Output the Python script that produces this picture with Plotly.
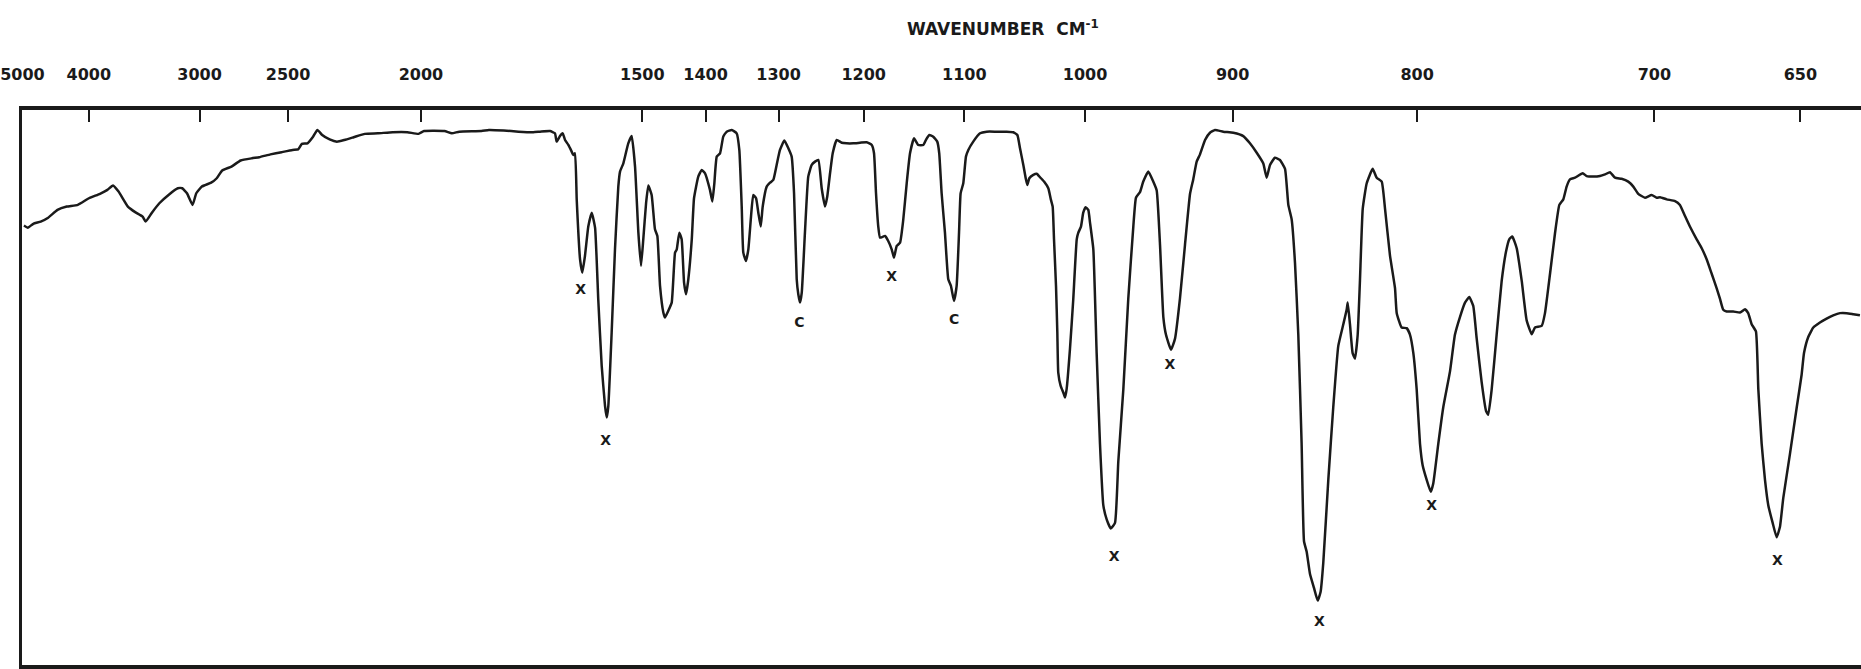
import plotly.graph_objects as go

# Spectrum trace (abscissa linear in wavelength, microns)
wavelength_um = [
    2.012, 2.041, 2.082, 2.138, 2.194, 2.264, 2.334, 2.417, 2.501, 2.584, 2.640, 2.682, 2.724, 2.794,
    2.849, 2.905, 2.928, 2.975, 3.031, 3.100, 3.170, 3.203, 3.239, 3.281, 3.309, 3.351, 3.421, 3.463,
    3.504, 3.574, 3.643, 3.728, 3.783, 3.867, 3.951, 4.034, 4.076, 4.104, 4.146, 4.188, 4.221, 4.257,
    4.313, 4.368, 4.424, 4.494, 4.578, 4.676, 4.787, 4.898, 4.982, 5.024, 5.177, 5.233, 5.289, 5.456,
    5.512, 5.623, 5.735, 5.846,
    5.897, 5.972, 6.009, 6.022, 6.047, 6.067, 6.085, 6.110, 6.135, 6.147, 6.160, 6.173, 6.198, 6.215,
    6.235, 6.260, 6.286, 6.311, 6.335, 6.361, 6.386, 6.399, 6.411, 6.436, 6.461, 6.486, 6.499, 6.524,
    6.561, 6.587, 6.612, 6.637, 6.657, 6.674, 6.695, 6.712, 6.737, 6.762, 6.780, 6.800, 6.825, 6.837,
    6.862, 6.888, 6.913, 6.926, 6.945, 6.963, 6.981, 6.996, 7.013, 7.039, 7.056, 7.088, 7.114, 7.139,
    7.176, 7.194, 7.209, 7.227, 7.252, 7.276, 7.302, 7.340, 7.377, 7.397, 7.415, 7.427, 7.447, 7.465,
    7.485, 7.502, 7.523, 7.540, 7.558, 7.573, 7.603, 7.628, 7.653, 7.678, 7.703, 7.736, 7.766, 7.791,
    7.809, 7.829, 7.841, 7.854, 7.867, 7.891, 7.916, 7.942, 7.967, 7.992, 8.017, 8.042, 8.059, 8.080,
    8.100, 8.130, 8.168, 8.205, 8.255, 8.305,
    8.356, 8.394, 8.411, 8.426, 8.443, 8.456, 8.494, 8.518, 8.544, 8.561, 8.582, 8.607, 8.631, 8.657,
    8.682, 8.712, 8.744, 8.782, 8.802, 8.827, 8.857, 8.887, 8.902, 8.920, 8.945, 8.970, 8.990, 9.013,
    9.033, 9.051, 9.063, 9.083, 9.103, 9.121, 9.158, 9.209, 9.259, 9.334, 9.410, 9.459, 9.490, 9.510,
    9.535, 9.553, 9.565, 9.580, 9.610, 9.636, 9.660, 9.691, 9.723, 9.743, 9.756, 9.766, 9.781, 9.791,
    9.798, 9.816, 9.836, 9.849, 9.861, 9.886, 9.911, 9.937, 9.949, 9.969, 9.986, 10.004, 10.024, 10.037,
    10.062, 10.087, 10.112, 10.137, 10.163, 10.193, 10.225, 10.250, 10.288, 10.325, 10.363, 10.383,
    10.413, 10.438, 10.476, 10.513, 10.539, 10.564, 10.589, 10.609, 10.647, 10.677, 10.714, 10.752,
    10.790, 10.814, 10.840, 10.865, 10.903, 10.940, 10.978, 11.040, 11.116, 11.191, 11.241, 11.292,
    11.341, 11.367, 11.392, 11.429, 11.467, 11.505, 11.530, 11.555, 11.580, 11.605, 11.630, 11.648,
    11.668, 11.693, 11.723, 11.751, 11.773, 11.793, 11.831, 11.868, 11.906, 11.944, 11.969, 11.977,
    11.994, 12.014, 12.032, 12.052, 12.069, 12.090, 12.120, 12.165, 12.195, 12.233, 12.258, 12.295,
    12.333, 12.346, 12.383,
    12.421, 12.446, 12.471, 12.496, 12.521, 12.541, 12.571, 12.602, 12.621, 12.659, 12.696, 12.747,
    12.784, 12.822, 12.860, 12.892, 12.922, 12.948, 12.985, 13.018, 13.035, 13.061, 13.098, 13.136,
    13.168, 13.193, 13.216, 13.249, 13.287, 13.324, 13.362, 13.387, 13.437, 13.462, 13.500, 13.537,
    13.570, 13.600, 13.625, 13.650, 13.688, 13.746, 13.776, 13.826, 13.876, 13.914, 13.951, 13.989,
    14.039, 14.089, 14.127, 14.164, 14.215, 14.265, 14.303, 14.328, 14.378, 14.441, 14.478, 14.516,
    14.553, 14.604, 14.642, 14.679, 14.717, 14.754, 14.779, 14.804, 14.830, 14.879, 14.930, 14.968,
    14.992, 15.018, 15.050, 15.068, 15.093, 15.118, 15.143, 15.176, 15.206, 15.231, 15.256, 15.306,
    15.357, 15.394, 15.412, 15.444, 15.482, 15.532, 15.582, 15.632, 15.683, 15.733, 15.783, 15.833,
]

transmittance_pct = [
    79.2, 78.8, 79.5, 79.9, 80.6, 82.0, 82.6, 82.9, 84.1, 84.9, 85.6, 86.4, 85.3, 82.6,
    81.6, 80.8, 79.9, 81.5, 83.2, 84.7, 85.9, 85.9, 85.0, 82.9, 85.0, 86.2, 86.9, 87.7,
    89.1, 89.8, 90.9, 91.3, 91.5, 92.0, 92.4, 92.8, 92.9, 93.9, 94.0, 95.2, 96.4, 95.5,
    94.7, 94.3, 94.6, 95.1, 95.7, 95.8, 96.0, 96.0, 95.7, 96.2, 96.2, 95.8, 96.1, 96.2,
    96.4, 96.3, 96.1, 96.0,
    96.1, 96.2, 95.8, 94.3, 95.3, 95.8, 94.6, 93.7, 92.5, 91.9, 92.2, 83.8, 73.1, 70.7,
    73.7, 79.0, 81.5, 78.8, 65.9, 53.9, 46.7, 44.6, 46.7, 59.9, 74.9, 86.2, 88.9, 90.4,
    94.0, 95.3, 89.8, 77.9, 71.9, 76.7, 83.2, 86.4, 84.7, 78.5, 77.3, 68.3, 63.5, 62.6,
    63.8, 65.3, 74.3, 74.9, 77.9, 76.7, 68.9, 66.8, 69.5, 76.7, 84.1, 88.0, 89.2, 88.6,
    85.6, 83.5, 86.8, 91.6, 92.2, 95.2, 96.1, 96.4, 95.8, 92.8, 82.6, 74.3, 72.8, 74.9,
    80.8, 84.7, 84.1, 81.5, 79.0, 82.6, 86.2, 86.9, 87.4, 90.1, 92.8, 94.5, 93.1, 91.6,
    85.0, 69.5, 66.8, 65.3, 67.1, 77.9, 88.0, 90.1, 90.7, 91.0, 85.9, 82.6, 84.4, 88.6,
    92.2, 94.6, 94.1, 94.0, 94.0, 94.1,
    94.2, 93.7, 92.2, 85.0, 79.0, 77.0, 77.3, 76.4, 74.9, 73.4, 75.5, 76.1, 80.2, 86.8,
    92.2, 94.9, 93.7, 93.7, 94.6, 95.5, 95.2, 94.3, 92.2, 85.0, 77.9, 69.5, 68.3, 65.6,
    68.3, 77.9, 85.0, 86.8, 91.6, 92.8, 94.3, 95.8, 96.1, 96.1, 96.1, 96.0, 95.5, 93.1,
    90.1, 87.7, 86.5, 87.7, 88.3, 88.5, 87.9, 87.1, 85.9, 83.8, 82.6, 76.7, 68.3, 59.9,
    52.7, 50.3, 49.1, 48.2, 49.7, 56.9, 65.9, 76.7, 77.9, 79.0, 81.5, 82.5, 82.0, 79.7,
    74.9, 56.2, 39.9, 28.8, 26.2, 24.6, 25.6, 36.7, 49.7, 66.0, 79.0, 84.2,
    85.2, 87.1, 88.9, 87.1, 85.5, 75.7, 62.7, 59.5, 56.8, 58.8, 66.0, 75.7,
    84.9, 87.5, 90.7, 92.0, 94.6, 95.9, 96.4, 96.1, 95.9, 95.3, 94.0, 92.3,
    90.4, 87.8, 90.1, 91.4, 91.0, 89.4, 82.9, 80.3, 72.5, 59.5, 39.9, 22.3,
    20.4, 16.4, 13.9, 11.6, 13.2, 18.4, 33.4, 46.4, 57.5, 61.4, 64.0, 65.3,
    61.4, 56.2, 55.2, 59.5, 69.2, 82.2, 86.8, 89.4, 87.8, 87.1, 82.2, 73.8,
    67.9, 63.4, 60.8,
    60.7, 59.5, 56.2, 49.7, 39.9, 36.0, 33.4, 31.2, 32.7, 39.9, 46.4, 52.9,
    59.5, 62.7, 65.3, 66.3, 64.7, 58.8, 51.0, 45.8, 45.1, 49.7, 59.5, 69.2,
    74.4, 76.7, 77.2, 75.1, 69.2, 62.1, 59.6, 60.8, 61.1, 63.4, 70.5, 77.7,
    82.9, 83.9, 86.2, 87.5, 87.8, 88.6, 88.1, 88.0, 88.1, 88.4, 88.8, 87.8,
    87.6, 87.1, 86.2, 84.9, 84.2, 84.7, 84.2, 84.3, 83.9, 83.6, 82.9, 80.9,
    79.0, 76.7, 75.1, 73.1, 70.5, 67.9, 66.0, 64.0, 63.7, 63.7, 63.5, 64.1,
    63.4, 61.4, 60.1, 49.7, 39.9, 33.4, 28.8, 25.6, 23.0, 24.9, 30.1, 38.0,
    46.4, 52.3, 56.2, 59.1, 60.8, 61.7, 62.4, 63.0, 63.4, 63.4, 63.2, 63.0,
]

# Band marks (X = sample band, C = compound band) and where they are lettered
mark_text = ["X", "X", "C", "X", "C", "X", "X", "X", "X", "X"]
mark_wavelength_um = [6.203, 6.391, 7.849, 8.544, 9.015, 10.639, 10.218, 11.763, 12.609, 15.211]
mark_transmittance = [67.4, 40.2, 61.6, 69.8, 62.0, 53.9, 19.4, 7.7, 28.5, 18.7]

# Wavenumber tick labels (cm^-1)
tick_wavenumbers = [5000, 4000, 3000, 2500, 2000, 1500, 1400, 1300, 1200, 1100, 1000, 900, 800, 700, 650]
tick_labels = [str(w) for w in tick_wavenumbers]
tick_positions_um = [10000.0 / w for w in tick_wavenumbers]

FONT = "DejaVu Sans"
INK = "#1a1a1a"

fig = go.Figure()
fig.add_trace(go.Scatter(
    x=wavelength_um, y=transmittance_pct, mode="lines",
    line=dict(color=INK, width=2.5, shape="spline", smoothing=0.4),
    hoverinfo="skip", showlegend=False,
))
fig.add_trace(go.Scatter(
    x=mark_wavelength_um, y=mark_transmittance, mode="text", text=mark_text,
    textfont=dict(family=FONT, size=14, color=INK, weight="bold"),
    hoverinfo="skip", showlegend=False,
))

fig.update_layout(
    width=1861, height=669,
    margin=dict(l=22, r=0, t=110, b=2),
    paper_bgcolor="white", plot_bgcolor="white",
    showlegend=False,
    xaxis=dict(
        side="top", range=[1.997, 15.841],
        tickmode="array", tickvals=tick_positions_um, ticktext=tick_labels,
        ticks="inside", ticklen=12, tickwidth=2, tickcolor=INK,
        tickfont=dict(family=FONT, size=16, color=INK, weight="bold"),
        ticklabelstandoff=20,
        showline=True, linewidth=3.5, linecolor=INK, mirror=True,
        showgrid=False, zeroline=False,
    ),
    yaxis=dict(
        range=[0, 100], showticklabels=False, ticks="",
        showline=True, linewidth=3, linecolor=INK, mirror=False,
        showgrid=False, zeroline=False,
    ),
    annotations=[dict(
        text="WAVENUMBER  CM<sup>-1</sup>",
        xref="paper", yref="paper", x=0.48, y=1.125,
        xanchor="left", yanchor="bottom", showarrow=False,
        font=dict(family=FONT, size=17, color=INK, weight="bold"),
    )],
)

fig.write_html("out.html", config={"displayModeBar": False})
